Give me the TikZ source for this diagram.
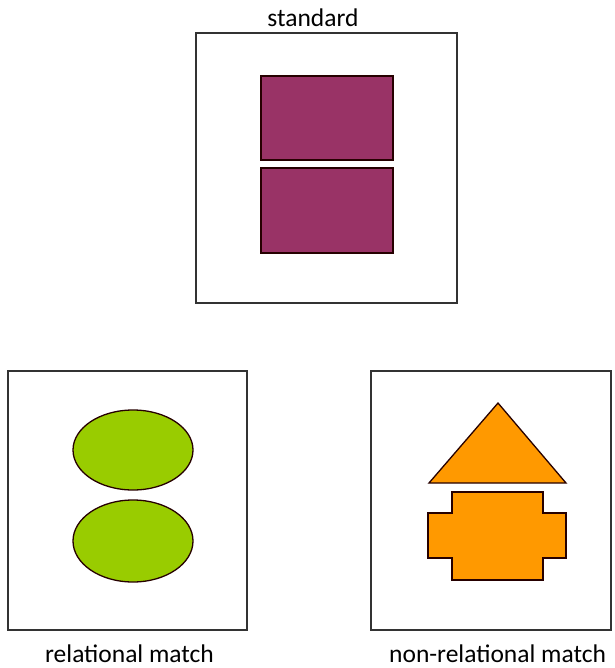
\documentclass[tikz,border=0pt]{standalone}
\usepackage{fontspec}
\setmainfont{Carlito}
\usetikzlibrary{shapes.geometric}
\definecolor{plum}{HTML}{993366}
\definecolor{lime}{HTML}{99CC00}
\definecolor{amber}{HTML}{FF9900}
\tikzset{
  frame/.style={draw=black!80, line width=1.8pt},
  shapeline/.style={draw=black!85!red, line width=1.3pt},
  lbl/.style={font=\fontsize{25.5}{30}\selectfont, inner sep=0pt, anchor=base}
}
\begin{document}
\begin{tikzpicture}[x=1pt, y=-1pt]
\useasboundingbox (0,0) rectangle (614,668);
% frames
\draw[frame] (196,33) rectangle (457,303);
\draw[frame] (8,371) rectangle (247,630);
\draw[frame] (371,371) rectangle (611,630);
% standard: two rectangles
\draw[shapeline, fill=plum] (261,76) rectangle (393,160);
\draw[shapeline, fill=plum] (261,168) rectangle (393,253);
% relational match: two ellipses
\draw[shapeline, fill=lime] (133,450) ellipse [x radius=60, y radius=40];
\draw[shapeline, fill=lime] (133,541) ellipse [x radius=60, y radius=41];
% non-relational match: triangle and cross
\draw[shapeline, fill=amber] (498,403) -- (566,483) -- (429,483) -- cycle;
\draw[shapeline, fill=amber] (452,492) -- (543,492) -- (543,513) -- (566,513) -- (566,558) -- (543,558) -- (543,580) -- (452,580) -- (452,558) -- (428,558) -- (428,513) -- (452,513) -- cycle;
% labels
\node[lbl] (std) at (313,27) {standard};
\node[lbl] (rel) at (129.5,662) {relational match};
\node[lbl, anchor=base west] (nonrel) at (389,662) {non-relational match};
\end{tikzpicture}
\end{document}
